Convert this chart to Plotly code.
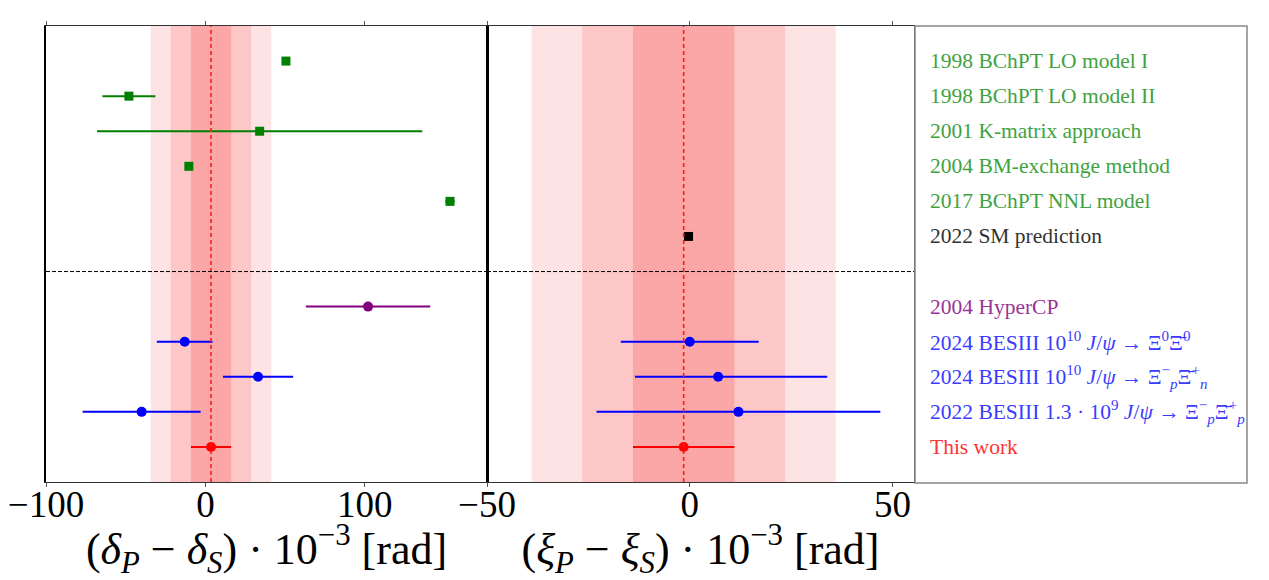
import plotly.graph_objects as go

# rows above the dashed line: theory predictions
theory_labels = ["1998 BChPT LO model I", "1998 BChPT LO model II",
                 "2001 K-matrix approach", "2004 BM-exchange method",
                 "2017 BChPT NNL model", "2022 SM prediction"]
theory_colors = ["green", "green", "green", "green", "green", "black"]
theory_text_colors = ["#3fa33f"] * 5 + ["#333333"]
delta_theory = [50.5, -48.0, 34.0, -10.4, 153.4, None]
delta_theory_err = [0.0, 16.6, 102.0, 0.0, 3.0, 0.0]
xi_theory = [None, None, None, None, None, -0.3]

# rows below the dashed line: measurements
exp_labels = ["2004 HyperCP",
              "2024 BESIII 10<sup>10</sup> <i>J</i>/<i>ψ</i> → Ξ<sup>0</sup>Ξ̄<sup>0</sup>",
              "2024 BESIII 10<sup>10</sup> <i>J</i>/<i>ψ</i> → Ξ<sup>−</sup><sub><i>p</i></sub>Ξ̄<sup>+</sup><sub><i>n</i></sub>",
              "2022 BESIII 1.3 · 10<sup>9</sup> <i>J</i>/<i>ψ</i> → Ξ<sup>−</sup><sub><i>p</i></sub>Ξ̄<sup>+</sup><sub><i>p</i></sub>",
              "This work"]
exp_colors = ["purple", "blue", "blue", "blue", "red"]
exp_text_colors = ["#993399", "#3b3bff", "#3b3bff", "#3b3bff", "#ff3333"]
delta_exp = [102.0, -13.0, 33.0, -40.0, 3.5]
delta_exp_err = [39.0, 17.5, 22.0, 37.0, 12.6]
xi_exp = [None, 0.0, 7.0, 12.0, -1.5]
xi_exp_err_plus = [0.0, 17.0, 26.9, 35.0, 12.5]
xi_exp_err_minus = [0.0, 17.0, 20.5, 35.0, 12.5]

band_fills = ["#fde3e4", "#fdc6c7", "#fca7a7"]  # 3, 2, 1 sigma

SERIF = "Liberation Serif"
# page body has an 8px margin, so the figure is a bit smaller than the window
W, H, OFF = 1261, 572, 8


def px(X):
    return (X - OFF) / W


def py(Y):
    return 1 - (Y - OFF) / H


fig = go.Figure()

n_theory = len(theory_labels)
n_exp = len(exp_labels)
sep = n_exp + 1
top = sep + n_theory + 1


def add_point(x, err_p, err_m, y, color, symbol, size, xa, ya):
    fig.add_trace(go.Scatter(
        x=[x], y=[y], mode="markers", xaxis=xa, yaxis=ya,
        marker=dict(symbol=symbol, size=size, color=color),
        error_x=dict(type="data", symmetric=False, array=[err_p],
                     arrayminus=[err_m], color=color, thickness=2, width=0),
        showlegend=False))


labels_all = []
for i, lab in enumerate(theory_labels):
    y = top - 1 - i
    if delta_theory[i] is not None:
        add_point(delta_theory[i], delta_theory_err[i], delta_theory_err[i], y,
                  theory_colors[i], "square", 9, "x", "y")
    if xi_theory[i] is not None:
        add_point(xi_theory[i], 0, 0, y, theory_colors[i], "square", 9, "x2", "y2")
    labels_all.append((lab, y, theory_text_colors[i]))

for j, lab in enumerate(exp_labels):
    y = sep - 1 - j
    if delta_exp[j] is not None:
        add_point(delta_exp[j], delta_exp_err[j], delta_exp_err[j], y,
                  exp_colors[j], "circle", 10, "x", "y")
    if xi_exp[j] is not None:
        add_point(xi_exp[j], xi_exp_err_plus[j], xi_exp_err_minus[j], y,
                  exp_colors[j], "circle", 10, "x2", "y2")
    labels_all.append((lab, y, exp_text_colors[j]))

# this-work bands and central line on both panels
for xr, yr, c, s in [("x", "y", delta_exp[-1], delta_exp_err[-1]),
                     ("x2", "y2", xi_exp[-1], xi_exp_err_plus[-1])]:
    for k, fill in zip([3, 2, 1], band_fills):
        fig.add_shape(type="rect", xref=xr, yref=yr + " domain",
                      x0=c - k * s, x1=c + k * s, y0=0, y1=1,
                      fillcolor=fill, line_width=0, layer="below")
    fig.add_shape(type="line", xref=xr, yref=yr + " domain", x0=c, x1=c, y0=0, y1=1,
                  line=dict(color="#ff1a1a", width=1.6, dash="4px,3px"))
    fig.add_shape(type="line", xref=xr + " domain", yref=yr, x0=0, x1=1, y0=sep, y1=sep,
                  line=dict(color="black", width=1, dash="4px,2px"))

# panel divider
fig.add_shape(type="line", xref="x2 domain", yref="y2 domain", x0=0, x1=0, y0=0, y1=1,
              line=dict(color="black", width=2))

# label box
fig.add_shape(type="rect", xref="paper", yref="paper",
              x0=px(915), x1=px(1247), y0=py(483), y1=py(26),
              line=dict(color="#888888", width=1.5), fillcolor="rgba(0,0,0,0)")
for lab, y, col in labels_all:
    fig.add_annotation(text=lab, x=px(928), xref="paper", y=y, yref="y",
                       xanchor="left", yanchor="middle", showarrow=False,
                       font=dict(family=SERIF, size=21.5, color=col))

axis_common = dict(showline=True, linecolor="#333333", linewidth=1.2, mirror="ticks",
                   ticks="outside", ticklen=4, tickcolor="#555555", showgrid=False,
                   zeroline=False, automargin=False, ticklabelstandoff=-15,
                   ticklabeloverflow="allow",
                   tickfont=dict(family=SERIF, size=37, color="black"))

title_font = dict(family=SERIF, size=44, color="black")
y_dom = [py(482), py(26)]
fig.update_layout(
    width=W, height=H,
    margin=dict(l=0, r=0, t=0, b=0),
    paper_bgcolor="white", plot_bgcolor="white",
    xaxis=dict(domain=[px(46), px(487)], range=[-100, 176.6],
               tickvals=[-100, 0, 100],
               title=dict(text="(<i>δ</i><sub><i>P</i></sub> − <i>δ</i><sub><i>S</i></sub>) · 10<sup>−3</sup> [rad]",
                          font=title_font, standoff=0),
               **axis_common),
    xaxis2=dict(domain=[px(487), px(914)], range=[-50, 55.3], anchor="y2",
                tickvals=[-50, 0, 50],
                title=dict(text="(<i>ξ</i><sub><i>P</i></sub> − <i>ξ</i><sub><i>S</i></sub>) · 10<sup>−3</sup> [rad]",
                           font=title_font, standoff=0),
                **axis_common),
    yaxis=dict(domain=y_dom, range=[0, top], showticklabels=False, showgrid=False,
               zeroline=False, showline=True, linecolor="black", linewidth=1.5,
               mirror=True, automargin=False),
    yaxis2=dict(domain=y_dom, range=[0, top], anchor="x2", showticklabels=False,
                showgrid=False, zeroline=False, showline=True, linecolor="#555555",
                linewidth=1.2, mirror=True, automargin=False),
)

fig.write_html("out.html")
